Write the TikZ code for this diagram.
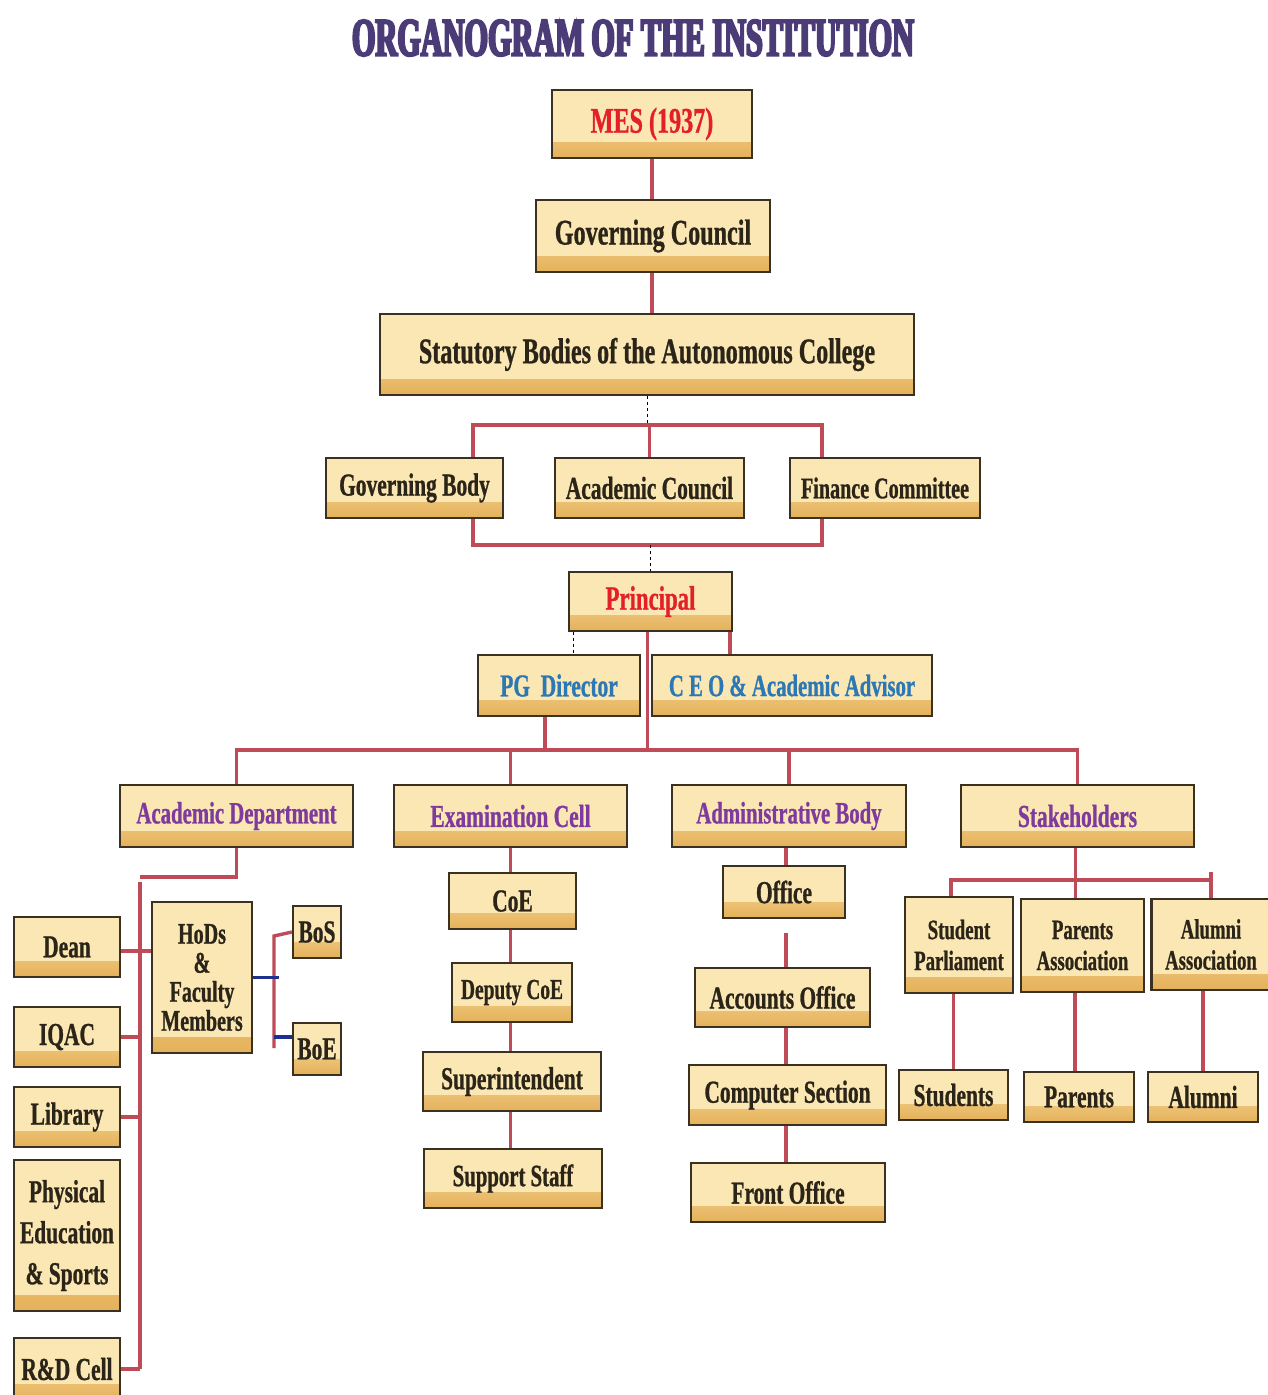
\documentclass[tikz,border=0pt]{standalone}
\usepackage{fontspec}
\setmainfont{Liberation Serif}[FakeStretch=0.67, BoldFeatures={FakeBold=0.8}]
\newfontfamily\titlefont{Liberation Serif}[FakeStretch=0.56, BoldFeatures={FakeBold=4}]
\definecolor{boxfill}{HTML}{FBE7B3}
\definecolor{boxdark}{HTML}{E5B15A}
\definecolor{boxline}{HTML}{3A3122}
\definecolor{txt}{HTML}{2B2418}
\definecolor{conn}{HTML}{BE4B57}
\definecolor{tred}{HTML}{E3202A}
\definecolor{tblue}{HTML}{2B78B5}
\definecolor{tpurp}{HTML}{7E3A9C}
\definecolor{ttitle}{HTML}{4B3C78}
\definecolor{cblue}{HTML}{1E2F8E}
\tikzset{
  box/.style={draw=boxline, line width=2.2pt, fill=boxfill, inner sep=0pt, align=center, text=txt,
    font=\bfseries\fontsize{32}{33}\selectfont,
    path picture={\shade[top color=boxfill, bottom color=boxdark]
      ([yshift=16pt]path picture bounding box.south west) rectangle (path picture bounding box.south east);}},
  fs/.style={font=\bfseries\fontsize{#1}{#1}\selectfont},
  wh/.style 2 args={minimum width=#1pt, minimum height=#2pt},
  link/.style={draw=conn, line width=3.4pt},
  thin dash/.style={draw=black, line width=1pt, dashed},
  bluelink/.style={draw=cblue, line width=3.4pt}
}
\begin{document}
\begin{tikzpicture}[x=1pt,y=1pt]
\useasboundingbox (0,0) rectangle (1267,-1395);
\fill[white] (0,0) rectangle (1267,-1395);
% title
\node[text=ttitle, font=\titlefont\bfseries\fontsize{54}{56}\selectfont, inner sep=0pt] (title) at (633,-38) {ORGANOGRAM OF THE INSTITUTION};
% top chain
\node[box, wh={200}{68}, text=tred, fs=36] (mes) at (652,-124) {MES (1937)};
\node[box, wh={234}{72}, fs=36] (gc) at (653,-236) {Governing Council};
\node[box, wh={534}{81}, fs=36] (stat) at (647,-354.5) {Statutory Bodies of the Autonomous College};
\node[box, wh={177}{60}, fs=32] (gb) at (414.5,-488) {Governing Body};
\node[box, wh={189}{60}, fs=32] (ac) at (649.5,-488) {Academic Council};
\node[box, wh={190}{60}, fs=30] (fc) at (885,-488) {Finance Committee};
\node[box, wh={163}{59}, text=tred, fs=34] (prin) at (650.5,-601.5) {Principal};
\node[box, wh={162}{61}, text=tblue, fs=32] (pg) at (559,-685.5) {PG\, Director};
\node[box, wh={280}{61}, text=tblue, fs=31] (ceo) at (792,-685.5) {C E O \& Academic Advisor};
% second level
\node[box, wh={233}{62}, text=tpurp, fs=31] (ad) at (236.5,-816) {Academic Department};
\node[box, wh={233}{62}, text=tpurp, fs=32] (ec) at (510.5,-816) {Examination Cell};
\node[box, wh={234}{62}, text=tpurp, fs=31] (ab) at (789,-816) {Administrative Body};
\node[box, wh={233}{62}, text=tpurp, fs=32] (sh) at (1077.5,-816) {Stakeholders};
% academic department
\node[box, wh={106}{60}] (dean) at (67,-947) {Dean};
\node[box, wh={106}{60}] (iqac) at (67,-1037) {IQAC};
\node[box, wh={106}{60}] (lib) at (67,-1117) {Library};
\node[box, wh={106}{151}, font=\bfseries\fontsize{32}{41}\selectfont] (pes) at (67,-1235.5) {Physical\\Education\\\& Sports};
\node[box, wh={106}{62}] (rd) at (67,-1369) {R\&D Cell};
\node[box, wh={100}{151}, font=\bfseries\fontsize{30}{29}\selectfont] (hods) at (202,-977.5) {HoDs\\\&\\Faculty\\Members};
\node[box, wh={48}{52}] (bos) at (317,-932) {BoS};
\node[box, wh={48}{52}] (boe) at (317,-1049) {BoE};
% examination
\node[box, wh={127}{56}] (coe) at (512.5,-901) {CoE};
\node[box, wh={120}{59}, fs=29] (dcoe) at (512,-992.5) {Deputy CoE};
\node[box, wh={178}{59}] (sup) at (512,-1081.5) {Superintendent};
\node[box, wh={178}{59}, fs=31] (ss) at (513,-1178.5) {Support\,Staff};
% administrative
\node[box, wh={122}{52}] (off) at (784,-892) {Office};
\node[box, wh={175}{59}] (acc) at (782.5,-997.5) {Accounts Office};
\node[box, wh={197}{60}] (cs) at (787.5,-1095) {Computer Section};
\node[box, wh={194}{59}] (fo) at (788,-1192.5) {Front Office};
% stakeholders
\node[box, wh={108}{96}, font=\bfseries\fontsize{28}{31}\selectfont] (sp) at (959,-945) {Student\\Parliament};
\node[box, wh={123}{93}, font=\bfseries\fontsize{28}{31}\selectfont] (pa) at (1082.5,-945.5) {Parents\\Association};
\node[box, wh={119}{91}, font=\bfseries\fontsize{28}{31}\selectfont] (aa) at (1211,-944.5) {Alumni\\Association};
\node[box, wh={109}{50}] (stu) at (953.5,-1095) {Students};
\node[box, wh={110}{50}] (par) at (1079,-1097) {Parents};
\node[box, wh={110}{50}] (alu) at (1203,-1097) {Alumni};
% coordinates
\coordinate (tbl) at (473,-425);
\coordinate (tbr) at (822,-425);
\coordinate (bbl) at (473,-545);
\coordinate (bbr) at (822,-545);
\coordinate (bus) at (0,-750);
\coordinate (spt) at (140,-877);
\coordinate (hb) at (274,-936);
\coordinate (sb) at (0,-880);
% connectors top
\draw[link] (mes.south) -- (mes.south |- gc.north);
\draw[link] (mes.south |- gc.south) -- (mes.south |- stat.north);
\draw[thin dash] (stat.south) -- (stat.south |- tbl);
\draw[link] (gb.north -| tbl) -- (tbl) -- (tbr) -- (fc.north -| tbr);
\draw[link] (ac.north) -- (ac.north |- tbl);
\draw[link] (gb.south -| bbl) -- (bbl) -- (bbr) -- (fc.south -| bbr);
\draw[thin dash] (prin.north |- bbl) -- (prin.north);
\draw[thin dash] ([xshift=6pt]prin.south west) -- ([xshift=6pt]prin.south west |- pg.north);
\draw[link] ([xshift=-3pt]prin.south east) -- ([xshift=-3pt]prin.south east |- ceo.north);
\draw[link] ([xshift=-3pt]prin.south) -- ([xshift=-3pt]prin.south |- bus);
\draw[link] ([xshift=-14pt]pg.south) -- ([xshift=-14pt]pg.south |- bus);
\draw[link] (ad.north) -- (ad.north |- bus) -- (sh.north |- bus) -- (sh.north);
\draw[link] (ec.north) -- (ec.north |- bus);
\draw[link] (ab.north) -- (ab.north |- bus);
% academic department
\draw[link] (ad.south) |- (spt);
\draw[link] ([yshift=-5pt]spt) -- (spt |- rd.east);
\draw[link] ([yshift=-4pt]dean.east) -- ([yshift=-4pt]dean.east -| hods.west);
\draw[link] (iqac.east) -- (iqac.east -| spt);
\draw[link] (lib.east) -- (lib.east -| spt);
\draw[link] (rd.east) -- (rd.east -| spt);
\draw[link] (bos.west) -- (hb) -- ([yshift=-112pt]hb);
\draw[bluelink] (hods.east) -- ([xshift=26pt]hods.east);
\draw[bluelink] ([yshift=12pt]boe.west -| hb) -- ([yshift=12pt]boe.west);
% examination
\draw[link] (ec.south) -- (ec.south |- coe.north);
\draw[link] (ec.south |- coe.south) -- (ec.south |- dcoe.north);
\draw[link] (ec.south |- dcoe.south) -- (ec.south |- sup.north);
\draw[link] (ec.south |- sup.south) -- (ec.south |- ss.north);
% administrative
\draw[link] ([xshift=-3pt]ab.south) -- ([xshift=-3pt]ab.south |- off.north);
\draw[link] ([xshift=-3pt,yshift=-14pt]ab.south |- off.south) -- ([xshift=-3pt]ab.south |- acc.north);
\draw[link] ([xshift=-3pt]ab.south |- acc.south) -- ([xshift=-3pt]ab.south |- cs.north);
\draw[link] ([xshift=-3pt]ab.south |- cs.south) -- ([xshift=-3pt]ab.south |- fo.north);
% stakeholders
\draw[link] ([xshift=-2pt]sh.south) -- ([xshift=-2pt]sh.south |- sb);
\draw[link] ([xshift=-8pt]sp.north) -- ([xshift=-8pt]sp.north |- sb) -- (aa.north |- sb) -- (aa.north);
\draw[link] ([yshift=8pt]aa.north |- sb) -- (aa.north |- sb);
\draw[link] ([xshift=-2pt]sh.south |- sb) -- ([xshift=-2pt]sh.south |- pa.north);
\draw[link] (stu.north |- sp.south) -- (stu.north);
\draw[link] ([xshift=-4pt]par.north |- pa.south) -- ([xshift=-4pt]par.north);
\draw[link] (alu.north |- aa.south) -- (alu.north);
\end{tikzpicture}
\end{document}
